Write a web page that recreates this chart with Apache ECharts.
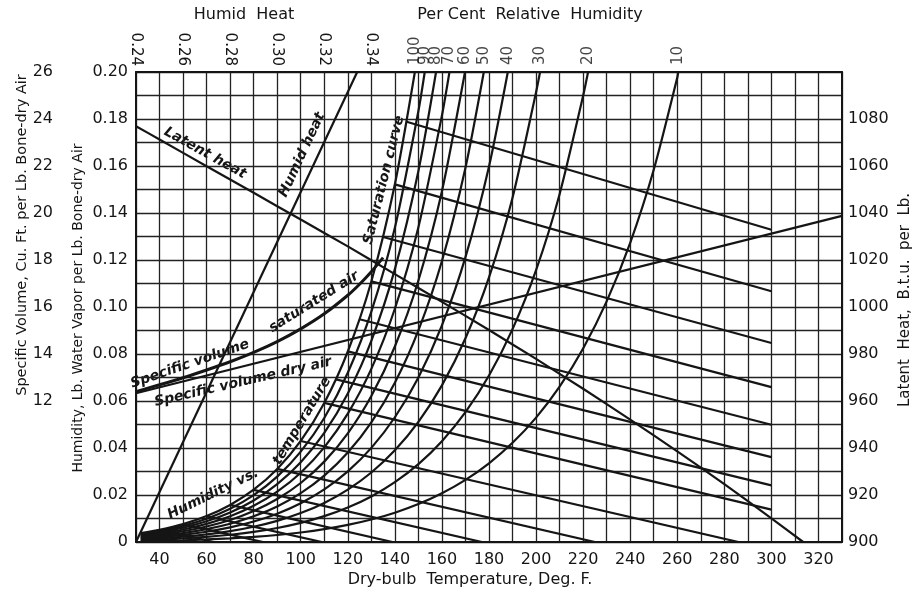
<!DOCTYPE html>
<html><head><meta charset="utf-8">
<script src="https://cdn.jsdelivr.net/npm/echarts@6/dist/echarts.min.js"></script>
<style>html,body{margin:0;padding:0;background:#fff}#c{width:924px;height:595px}</style>
</head><body><div id="c"></div>
<script>
// ---- Data ----
const rhTemps = [32,40,50,60,70,80,90,100,110,120,130,140,150,160,170,180,190,200,210,220,230,240,250,260];
const rh100 = [0.00378,0.00519,0.00763,0.01104,0.01576,0.02224,0.03105,0.0430,0.05916,0.08107,0.11086,0.1522];
const rh90  = [0.0034,0.00467,0.00686,0.00992,0.01415,0.01995,0.02781,0.03844,0.05274,0.07202,0.09803,0.1337,0.1834];
const rh80  = [0.00302,0.00415,0.00609,0.0088,0.01255,0.01766,0.0246,0.03393,0.04644,0.06321,0.08563,0.1161,0.1579];
const rh70  = [0.00264,0.00363,0.00532,0.00769,0.01095,0.0154,0.02142,0.02949,0.04026,0.05461,0.07366,0.09926,0.1339,0.1815];
const rh60  = [0.00226,0.00311,0.00456,0.00658,0.00936,0.01316,0.01827,0.02511,0.0342,0.04623,0.06209,0.08318,0.1113,0.1493];
const rh50  = [0.00188,0.00259,0.00379,0.00547,0.00778,0.01093,0.01515,0.02078,0.02824,0.03805,0.05089,0.06781,0.09009,0.1196,0.1593];
const rh40  = [0.00151,0.00207,0.00303,0.00437,0.00621,0.00871,0.01206,0.01651,0.02238,0.03008,0.04006,0.05309,0.07004,0.09217,0.1212,0.1598];
const rh30  = [0.00113,0.00155,0.00227,0.00327,0.00465,0.00651,0.009,0.0123,0.01664,0.02229,0.02957,0.03899,0.05109,0.06665,0.0867,0.1126,0.1465,0.1914];
const rh20  = [0.00075,0.00103,0.00151,0.00218,0.00309,0.00433,0.00597,0.00815,0.011,0.01468,0.0194,0.02546,0.03315,0.0429,0.05523,0.07082,0.09058,0.1157,0.148,0.1899];
const rh10  = [0.00038,0.00052,0.00075,0.00109,0.00154,0.00215,0.00297,0.00405,0.00545,0.00726,0.00955,0.01247,0.01615,0.02074,0.02644,0.0335,0.04221,0.05294,0.06613,0.08237,0.1024,0.1273,0.1584,0.1976];
const rhLabels = ['100','90','80','70','60','50','40','30','20','10'];
const rhTopT = [148.5,152.7,157.5,163.2,169.8,177.8,188.0,201.7,222.1,260.4];
const rhTopH = 0.20;

const adiabStartT = [40,50,60,70,80,90,100,110,115,120,125,130,135,140,145];
const adiabStartH = [0.0052,0.0076,0.0110,0.0158,0.0222,0.0311,0.0430,0.0592,0.0692,0.0811,0.0948,0.1109,0.1298,0.1522,0.1788];
const adiabEndT   = [63,84,109,139,177,225,286,300,300,300,300,300,300,300,300];
const adiabEndH   = [0,0,0,0,0,0,0,0.0138,0.0241,0.0361,0.0499,0.0659,0.0847,0.1067,0.1329];

const latentT = [30,40,60,80,100,120,140,160,180,200,220,240,260,280,300,313.5];
const latentBtu = [1076.9,1071.3,1059.9,1048.6,1037.2,1025.8,1014.0,1002.2,990.2,977.9,965.2,952.1,938.6,924.6,910.1,900];

const volDryT = [30,330];
const volDry = [12.33,19.88];
const volSatT = [30,40,50,60,70,80,90,100,110,120,125,130,135];
const volSat = [12.40,12.69,12.99,13.32,13.67,14.07,14.53,15.07,15.71,16.50,16.97,17.50,18.10];

const humidHeatS = [0.24,0.334];
const humidHeatH = [0,0.20];

// ---- Chart ----
const FONT = 'DejaVu Sans';
const INK = '#151515';
const chart = echarts.init(document.getElementById('c'), null, {renderer:'canvas'});
const lineBase = {type:'line', symbol:'none', silent:true, animation:false, lineStyle:{color:INK, width:2.2}};
const series = [];
[rh100,rh90,rh80,rh70,rh60,rh50,rh40,rh30,rh20,rh10].forEach((vals,i)=>{
  const d = vals.map((h,j)=>[rhTemps[j],h]);
  d.push([rhTopT[i], rhTopH]);
  series.push(Object.assign({}, lineBase, {name:'RH '+rhLabels[i], xAxisIndex:0, yAxisIndex:0, smooth:0.25, data:d}));
});
adiabStartT.forEach((t,i)=>{
  series.push(Object.assign({}, lineBase, {name:'Adiabatic '+t, xAxisIndex:0, yAxisIndex:0, data:[[t,adiabStartH[i]],[adiabEndT[i],adiabEndH[i]]]}));
});
series.push(Object.assign({}, lineBase, {name:'Latent heat', xAxisIndex:0, yAxisIndex:2, smooth:0.2, data:latentT.map((t,i)=>[t,latentBtu[i]])}));
series.push(Object.assign({}, lineBase, {name:'Sp. vol. dry', xAxisIndex:0, yAxisIndex:1, data:volDryT.map((t,i)=>[t,volDry[i]])}));
series.push(Object.assign({}, lineBase, {name:'Sp. vol. sat', xAxisIndex:0, yAxisIndex:1, smooth:0.25, lineStyle:{color:INK,width:3}, data:volSatT.map((t,i)=>[t,volSat[i]])}));
series.push(Object.assign({}, lineBase, {name:'Humid heat', xAxisIndex:1, yAxisIndex:0, data:humidHeatS.map((s,i)=>[s,humidHeatH[i]])}));
series.push({type:'scatter', name:'RH labels', xAxisIndex:0, yAxisIndex:0, symbolSize:0, silent:true, animation:false, clip:false,
  data: rhTopT.map((t,i)=>[t, rhTopH, rhLabels[i]]),
  label:{show:true, position:'top', distance:7, rotate:90, align:'left', verticalAlign:'middle',
    formatter:p=>p.value[2], fontFamily:FONT, fontSize:15, color:INK}});

const lbl = {fontFamily:FONT, fontSize:16, color:INK};
const gridLine = {show:true, lineStyle:{color:'#222', width:1.3}};
const border = {show:true, lineStyle:{color:INK, width:2}};

function txt(x,y,text,deg,opt){
  return Object.assign({type:'text', x:x, y:y, rotation:deg*Math.PI/180, silent:true,
    style:Object.assign({text:text, fill:INK, fontFamily:FONT, fontSize:16, textAlign:'center', textVerticalAlign:'middle'}, opt||{})});
}
const ann = {fontStyle:'italic', fontWeight:'bold', fontSize:14};

chart.setOption({
  animation:false,
  backgroundColor:'#fff',
  grid:{left:136, right:82, top:72, bottom:53},
  xAxis:[
    {type:'value', position:'bottom', min:30, max:330, interval:10, axisLine:border, axisTick:{show:false}, splitLine:gridLine,
      axisLabel:Object.assign({margin:10, showMinLabel:true, showMaxLabel:true, formatter:v=>(v%20===0&&v>=40&&v<=320)?String(v):''}, lbl)},
    {type:'value', position:'top', min:0.24, max:0.54, interval:0.02, axisLine:border, axisTick:{show:false}, splitLine:{show:false},
      axisLabel:Object.assign({margin:6, rotate:90, showMinLabel:true, formatter:v=>v<=0.345?v.toFixed(2):''}, lbl, {fontSize:15})}
  ],
  yAxis:[
    {type:'value', position:'left', min:0, max:0.2, interval:0.01, axisLine:border, axisTick:{show:false}, splitLine:gridLine,
      axisLabel:Object.assign({margin:8, showMinLabel:true, showMaxLabel:true, formatter:v=>{const k=Math.round(v*100);return k%2===0?(k===0?'0':(k/100).toFixed(2)):'';}}, lbl)},
    {type:'value', position:'left', offset:75, min:6, max:26, interval:2, axisLine:{show:false}, axisTick:{show:false}, splitLine:{show:false},
      axisLabel:Object.assign({margin:8, showMaxLabel:true, formatter:v=>v>=12?String(v):''}, lbl)},
    {type:'value', position:'right', min:900, max:1100, interval:20, axisLine:border, axisTick:{show:false}, splitLine:{show:false},
      axisLabel:Object.assign({margin:6, showMinLabel:true, formatter:v=>v<=1080?String(v):''}, lbl)}
  ],
  series:series,
  graphic:[
    txt(244,15,'Humid  Heat',0),
    txt(530,15,'Per Cent  Relative  Humidity',0),
    txt(470,580,'Dry-bulb  Temperature, Deg. F.',0),
    txt(22,235,'Specific Volume, Cu. Ft. per Lb. Bone-dry Air',90,{fontSize:14.5}),
    txt(78,308,'Humidity, Lb. Water Vapor per Lb. Bone-dry Air',90,{fontSize:14}),
    txt(905,300,'Latent  Heat,  B.t.u.  per  Lb.',90,{fontSize:15}),
    txt(205,153,'Latent heat',-29,ann),
    txt(302,155,'Humid heat',65,ann),
    txt(384,180,'Saturation curve',76,ann),
    txt(190,364,'Specific volume',19,ann),
    txt(314,302,'saturated air',32,ann),
    txt(243,382,'Specific volume dry air',13,ann),
    txt(213,494,'Humidity vs.',26,ann),
    txt(302,421,'temperature',59,ann)
  ]
});
</script></body></html>
